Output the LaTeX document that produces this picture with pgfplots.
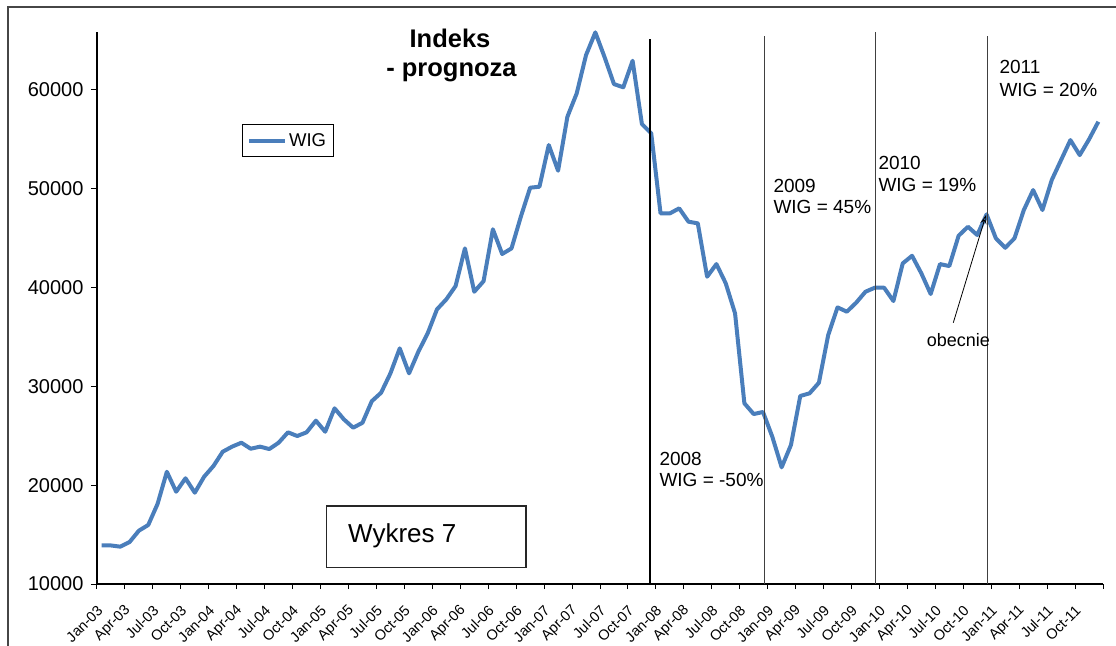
\documentclass[border=0pt]{standalone}
\usepackage{fontspec}
\setmainfont{Liberation Sans}
\usepackage{pgfplots}
\pgfplotsset{compat=1.18}
\usetikzlibrary{arrows.meta}
\definecolor{wigblue}{HTML}{4A7EBB}
\newcommand{\fsz}[1]{\fontsize{#1}{#1}\selectfont}

% WIG, miesiecznie, Jan-03 .. Dec-11
\pgfplotstableread{
i wig
0 13900
1 13900
2 13780
3 14250
4 15400
5 15970
6 18100
7 21360
8 19340
9 20700
10 19240
11 20860
12 21940
13 23390
14 23900
15 24300
16 23690
17 23900
18 23660
19 24300
20 25350
21 24980
22 25350
23 26530
24 25410
25 27780
26 26670
27 25820
28 26320
29 28500
30 29360
31 31320
32 33850
33 31320
34 33510
35 35370
36 37800
37 38810
38 40160
39 43970
40 39580
41 40650
42 45900
43 43400
44 43970
45 47170
46 50110
47 50210
48 54430
49 51830
50 57290
51 59660
52 63530
53 65830
54 63300
55 60600
56 60270
57 62960
58 56550
59 55610
60 47510
61 47510
62 48020
63 46670
64 46500
65 41100
66 42380
67 40430
68 37390
69 28290
70 27200
71 27410
72 24900
73 21810
74 24070
75 29030
76 29300
77 30370
78 35200
79 38000
80 37560
81 38470
82 39580
83 39990
84 39990
85 38640
86 42450
87 43220
88 41440
89 39350
90 42380
91 42180
92 45250
93 46160
94 45320
95 47410
96 44990
97 44030
98 44990
99 47850
100 49870
101 47850
102 50890
103 52910
104 54930
105 53410
106 55000
107 56790
}\wigdata

\begin{document}
\begin{tikzpicture}
\path[use as bounding box] (-97bp,-62bp) rectangle (1019bp,584bp);
% ramka wykresu (widoczna tylko lewa i gorna krawedz)
\draw[gray!55!black, line width=1.3bp] (-89bp,-62bp) -- (-89bp,577bp) -- (1019bp,577bp);
\begin{axis}[
    scale only axis,
    width=1006bp, height=552.3bp,
    xmin=-0.5, xmax=107.5,
    ymin=10000, ymax=65900,
    axis x line*=bottom, axis y line*=left,
    axis line style={line width=1.8bp, black},
    tick align=outside,
    xtick={0,3,...,105},
    xticklabels={Jan-03,Apr-03,Jul-03,Oct-03,Jan-04,Apr-04,Jul-04,Oct-04,
                 Jan-05,Apr-05,Jul-05,Oct-05,Jan-06,Apr-06,Jul-06,Oct-06,
                 Jan-07,Apr-07,Jul-07,Oct-07,Jan-08,Apr-08,Jul-08,Oct-08,
                 Jan-09,Apr-09,Jul-09,Oct-09,Jan-10,Apr-10,Jul-10,Oct-10,
                 Jan-11,Apr-11,Jul-11,Oct-11},
    major x tick style={draw=none},
    minor xtick={-0.5,2.5,...,107.5},
    minor tick length=5bp,
    minor x tick style={line width=1bp, black},
    ytick={10000,20000,...,60000},
    major tick length=6bp,
    major y tick style={line width=1bp, black},
    scaled y ticks=false,
    /pgf/number format/assume math mode=true,
    yticklabel style={/pgf/number format/fixed, /pgf/number format/1000 sep={},
        font=\fsz{20bp}, xshift=-4bp},
    xticklabel style={font=\fsz{14.5bp}, xshift=-1.5bp, yshift=-18bp,
        rotate=45, anchor=east, inner sep=0pt},
    legend style={at={(0.1438,0.8329)}, anchor=north west, draw=black,
        line width=0.8bp, font=\fsz{18.5bp}, inner xsep=5bp, inner ysep=7bp},
    legend image code/.code={\draw[#1, line width=4bp] (0bp,0bp) -- (36bp,0bp);},
    clip=false,
]
\addplot[wigblue, line width=4bp, line join=round, no marks] table[x=i, y=wig] {\wigdata};
\addlegendentry{WIG}
\end{axis}
% linie podzialu lat
\draw[black, line width=2.2bp] (553bp,0bp) -- (553bp,545bp);
\draw[black!75, line width=0.9bp] (667bp,0bp) -- (667bp,548bp);
\draw[black!75, line width=0.9bp] (778.7bp,0bp) -- (778.7bp,552bp);
\draw[black!75, line width=0.9bp] (890.3bp,0bp) -- (890.3bp,548bp);
% tytul
\node[anchor=base, font=\fsz{25.5bp}\bfseries, inner sep=0pt] at (353bp,536bp) {Indeks};
\node[anchor=base, font=\fsz{25.5bp}\bfseries, inner sep=0pt] at (354.5bp,507.3bp) {- prognoza};
% opisy lat
\begin{scope}[every node/.style={anchor=base west, inner sep=0pt, font=\fsz{19bp}}]
\node at (562.3bp,118.3bp) {2008};
\node at (562.3bp,97.3bp) {WIG = -50\%};
\node at (676.3bp,391.3bp) {2009};
\node at (676.3bp,370bp) {WIG = 45\%};
\node at (781.3bp,414bp) {2010};
\node at (781.3bp,392.3bp) {WIG = 19\%};
\node at (902.3bp,510bp) {2011};
\node at (902.3bp,487.3bp) {WIG = 20\%};
\end{scope}
\node[anchor=base west, inner sep=0pt, font=\fsz{18bp}] at (829.7bp,237.3bp) {obecnie};
\draw[black, line width=0.8bp, -{Stealth[length=9bp, width=6bp, open]}] (856.3bp,261.3bp) -- (889bp,369bp);
% ramka "Wykres 7"
\draw[gray!30!black, line width=1.5bp] (229.7bp,16.3bp) rectangle (429bp,78bp);
\node[anchor=base west, inner sep=0pt, font=\fsz{26bp}] at (251bp,41.7bp) {Wykres 7};
\end{tikzpicture}
\end{document}
